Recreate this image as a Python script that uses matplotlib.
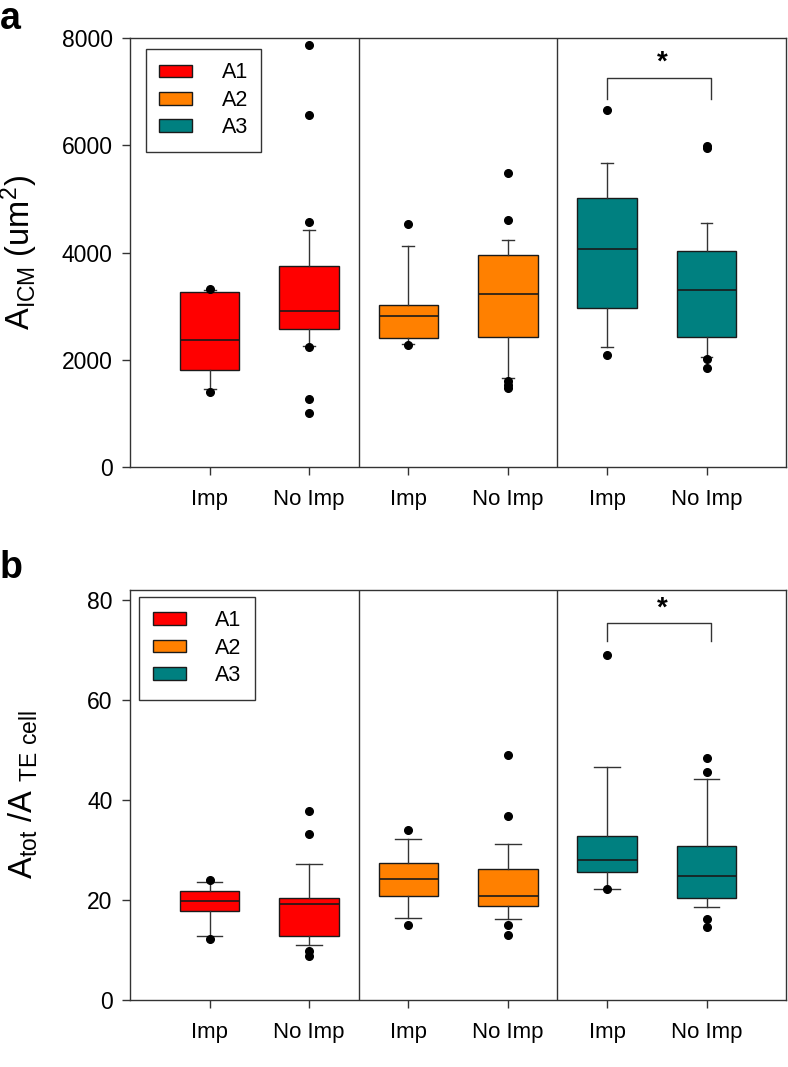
import numpy as np
import matplotlib.pyplot as plt
from matplotlib.patches import Patch

plt.rcParams['font.family'] = ['Liberation Sans', 'DejaVu Sans']

groups = ["A1", "A1", "A2", "A2", "A3", "A3"]
tick_labels = ["Imp", "No Imp", "Imp", "No Imp", "Imp", "No Imp"]
colors = {"A1": "#ff0000", "A2": "#ff8000", "A3": "#008080"}

# panel a: A_ICM (um^2)  -- q1, median, q3, whisker low, whisker high
a_q1 = [1800, 2570, 2410, 2430, 2960, 2430]
a_med = [2370, 2900, 2820, 3230, 4065, 3310]
a_q3 = [3270, 3755, 3015, 3950, 5015, 4020]
a_wlo = [1450, 2250, 2300, 1660, 2240, 2050]
a_whi = [3300, 4420, 4120, 4240, 5670, 4550]
a_fliers = [
    [3320, 1400],
    [7860, 6560, 4560, 2245, 1270, 1015],
    [4540, 2270],
    [5480, 4605, 1600, 1530, 1470],
    [6650, 2090],
    [5990, 5950, 2015, 1840],
]

# panel b: A_tot / A_TE cell
b_q1 = [17.7, 12.7, 20.7, 18.7, 25.6, 20.3]
b_med = [19.7, 19.1, 24.2, 20.7, 28.0, 24.8]
b_q3 = [21.7, 20.3, 27.4, 26.2, 32.8, 30.8]
b_wlo = [12.7, 10.9, 16.3, 16.1, 22.1, 18.5]
b_whi = [23.6, 27.2, 32.1, 31.2, 46.6, 44.1]
b_fliers = [
    [24.0, 12.2],
    [37.8, 33.1, 9.8, 8.8],
    [34.0, 15.0],
    [48.9, 36.7, 15.0, 13.0],
    [69.0, 22.2],
    [48.3, 45.5, 16.2, 14.5],
]

positions = [1, 2, 3, 4, 5, 6]

fig = plt.figure(figsize=(7.88, 10.67), dpi=100)
ax_a = fig.add_axes([0.165, 0.5623, 0.8325, 0.4021])
ax_b = fig.add_axes([0.165, 0.0628, 0.8325, 0.3843])


def draw_panel(ax, q1, med, q3, wlo, whi, fliers, capw, ylim, yticks, ylabel,
               bracket, star_y, legend_anchor):
    stats = []
    for i in range(len(q1)):
        stats.append(dict(q1=q1[i], med=med[i], q3=q3[i], whislo=wlo[i],
                          whishi=whi[i], fliers=fliers[i]))
    bp = ax.bxp(stats, positions=positions, widths=0.6, patch_artist=True,
                capwidths=capw,
                boxprops=dict(edgecolor='#1a1a1a', linewidth=1.0),
                medianprops=dict(color='#1a1a1a', linewidth=1.2),
                whiskerprops=dict(color='#333333', linewidth=1.0),
                capprops=dict(color='#333333', linewidth=1.0),
                flierprops=dict(marker='o', markerfacecolor='black',
                                markeredgecolor='black', markersize=5.5))
    for patch, g in zip(bp['boxes'], groups):
        patch.set_facecolor(colors[g])

    for xd in (2.5, 4.5):
        ax.axvline(xd, color='#333333', linewidth=1.0)

    ax.set_xlim(0.2, 6.8)
    ax.set_ylim(*ylim)
    ax.set_yticks(yticks)
    ax.set_xticks(positions)
    ax.set_xticklabels(tick_labels)
    ax.tick_params(axis='both', direction='out', length=6,
                   width=1.0, color='#333333')
    ax.tick_params(axis='x', pad=10, labelsize=16)
    ax.tick_params(axis='y', pad=6.5, labelsize=16.5)
    for s in ax.spines.values():
        s.set_color('#333333')
        s.set_linewidth(1.0)
    ax.set_ylabel(ylabel, fontsize=23.5)
    ax.yaxis.set_label_coords(-0.137, 0.5)

    # significance bracket
    x0, x1, ytop, yleg = bracket
    ax.plot([x0, x0, x1, x1], [yleg, ytop, ytop, yleg], color='#333333',
            linewidth=1.0)
    ax.text((x0 + x1) / 2 + 0.03, star_y, "*", ha='center', va='center',
            fontsize=20, fontweight='bold')

    handles = [Patch(facecolor=colors[k], edgecolor='#1a1a1a', label=k)
               for k in ["A1", "A2", "A3"]]
    leg = ax.legend(handles=handles, loc='upper left',
                    bbox_to_anchor=legend_anchor, fontsize=15.5,
                    fancybox=False, edgecolor='#333333', framealpha=1,
                    handlelength=1.55, handleheight=0.52, handletextpad=1.35,
                    labelspacing=0.3, borderpad=0.62, borderaxespad=0)
    leg.get_frame().set_linewidth(1.0)


draw_panel(ax_a, a_q1, a_med, a_q3, a_wlo, a_whi, a_fliers, 0.12,
           (0, 8000), [0, 2000, 4000, 6000, 8000],
           r'$\mathregular{A_{ICM}}$ (um$\mathregular{^2}$)',
           (5.0, 6.05, 7260, 6870), 7540, (0.024, 0.974))
draw_panel(ax_b, b_q1, b_med, b_q3, b_wlo, b_whi, b_fliers, 0.26,
           (0, 82), [0, 20, 40, 60, 80],
           r'$\mathregular{A_{tot}}$ /A $\mathregular{_{TE\ cell}}$',
           (5.0, 6.05, 75.4, 71.7), 78.2, (0.014, 0.983))

fig.text(0.0, 0.999, "a", fontsize=27, fontweight='bold', va='top', ha='left')
fig.text(0.0, 0.485, "b", fontsize=27, fontweight='bold', va='top', ha='left')

fig.savefig("out.png", dpi=100)
